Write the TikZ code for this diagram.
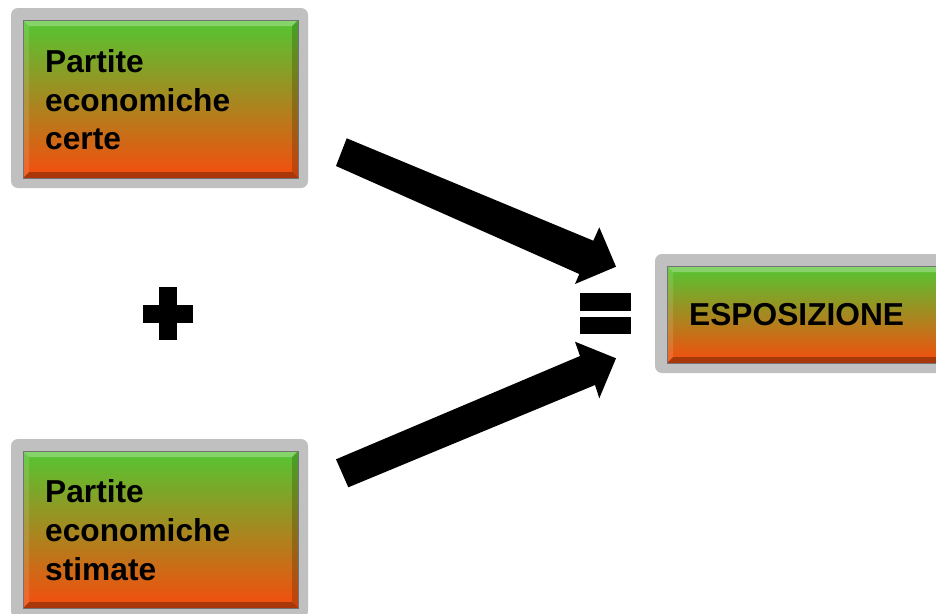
\documentclass[tikz,border=0pt]{standalone}
\usepackage{fontspec}
\setmainfont{Liberation Sans}
\usetikzlibrary{calc}
\definecolor{gtop}{RGB}{84,198,50}
\definecolor{gmid}{RGB}{145,145,40}
\definecolor{gbot}{RGB}{246,76,14}
\definecolor{framegrey}{RGB}{192,192,192}
\newcommand\gradbox[4]{%
  \fill[framegrey, rounded corners=7pt] (#1-12,#2-12) rectangle (#3+10,#4+10);
  \shade[top color=gtop, middle color=gmid, bottom color=gbot] (#1,#2) rectangle (#3,#4);
  \fill[white, opacity=0.28] (#1,#2) -- (#3,#2) -- (#3-6,#2+6) -- (#1+6,#2+6) -- cycle;
  \fill[black, opacity=0.30] (#1,#4) -- (#3,#4) -- (#3-6,#4-6) -- (#1+6,#4-6) -- cycle;
  \fill[white, opacity=0.12] (#1,#2) -- (#1+6,#2+6) -- (#1+6,#4-6) -- (#1,#4) -- cycle;
  \fill[black, opacity=0.18] (#3,#2) -- (#3-6,#2+6) -- (#3-6,#4-6) -- (#3,#4) -- cycle;
  \draw[black!55, line width=0.6pt] (#1,#2) rectangle (#3,#4);
}
\tikzset{
  boxtext/.style={inner sep=0pt, align=left, font=\fontsize{31.7}{38.7}\selectfont\bfseries, text=black},
  solid shape/.style={fill=black, draw=none}
}
\begin{document}
\begin{tikzpicture}[x=1pt, y=-1pt]
\clip (0,0) rectangle (936,613);
\fill[white] (0,0) rectangle (936,613);
% boxes
\gradbox{23}{20}{298}{178}
\gradbox{23}{451}{298}{608}
\gradbox{667}{266}{950}{363}
% texts
\node[boxtext, anchor=north west] (certe) at (45,49.3) {Partite\\economiche\\certe};
\node[boxtext, anchor=north west] (stimate) at (45,479.5) {Partite\\economiche\\stimate};
\node[boxtext, anchor=base west] (espo) at (689,325) {ESPOSIZIONE};
% plus sign
\coordinate (plus) at (168,313.5);
\fill[solid shape] (159,287) rectangle (177,340);
\fill[solid shape] (143,305) rectangle (193,323);
% equals sign
\coordinate (equals) at (605.5,313.5);
\fill[solid shape] (580,293) rectangle (631,311);
\fill[solid shape] (580,317) rectangle (631,334);
% arrows
\coordinate (tipA) at (616,266.7);
\coordinate (tipB) at (616,358.3);
\fill[solid shape] (346.7,138.3) -- (593.3,240.7) -- (599.3,227.3) -- (tipA)
   -- (575,284) -- (579.3,274) -- (336,166) -- cycle;
\fill[solid shape] (336,459.3) -- (580,356) -- (575,341.7) -- (tipB)
   -- (599.3,398.3) -- (595,385) -- (348.3,487.3) -- cycle;
\end{tikzpicture}
\end{document}
